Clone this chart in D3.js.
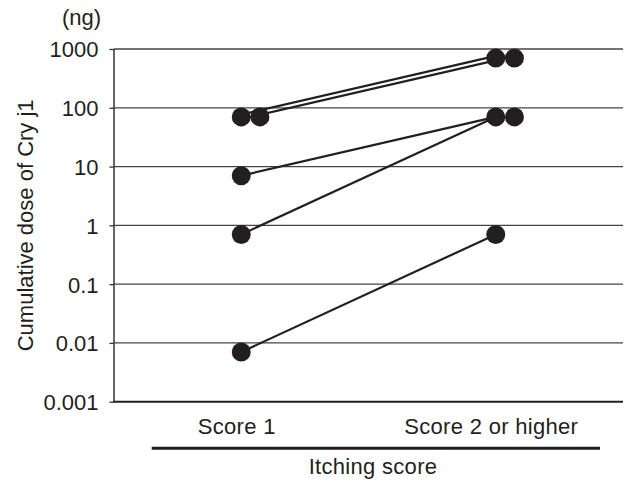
<!DOCTYPE html>
<html><head><meta charset="utf-8">
<script src="https://cdn.jsdelivr.net/npm/d3@7"></script>
<style>body{margin:0;background:#fff}</style>
</head><body>
<svg id="chart" width="625" height="480"></svg>
<script>
const categories = ["Score 1", "Score 2 or higher"];
const score1Values = [70, 70, 7, 0.7, 0.007];
const score2Values = [700, 700, 70, 70, 0.7];
const yTicks = [0.001, 0.01, 0.1, 1, 10, 100, 1000];
const yTickLabels = ["0.001", "0.01", "0.1", "1", "10", "100", "1000"];
const yTitle = "Cumulative dose of Cry j1";
const yUnit = "(ng)";
const xTitle = "Itching score";

const ink = "#231f20";
const font = "'Liberation Sans', Arial, Helvetica, sans-serif";
const fs = 22;
const plot = {left: 114, right: 623, top: 49, bottom: 401.7};
const R = 9.5;

const svg = d3.select("#chart");
const x = d3.scaleBand().domain(categories).range([plot.left, plot.right]).padding(0);
const xc = c => x(c) + x.bandwidth() / 2;
const y = d3.scaleLog().domain([0.001, 1000]).range([plot.bottom, plot.top]);

// gridlines
svg.append("g").selectAll("line").data(yTicks.slice(1)).join("line")
  .attr("x1", plot.left).attr("x2", plot.right)
  .attr("y1", d => y(d)).attr("y2", d => y(d))
  .attr("stroke", "#444").attr("stroke-width", 1.3);

// y axis
const yAxis = d3.axisLeft(y).tickValues(yTicks).tickSize(4.5).tickPadding(11)
  .tickFormat((d, i) => yTickLabels[i]);
const ga = svg.append("g").attr("transform", `translate(${plot.left},0)`).call(yAxis);
ga.select(".domain").remove();
ga.selectAll(".tick line").attr("stroke", "#333").attr("stroke-width", 1.3);
ga.selectAll(".tick text").attr("font-family", font).attr("font-size", fs).attr("fill", ink)
  .attr("dy", "0.36em");
svg.append("line").attr("x1", plot.left).attr("x2", plot.left)
  .attr("y1", plot.top).attr("y2", plot.bottom).attr("stroke", "#333").attr("stroke-width", 1.5);
// bottom axis line
svg.append("line").attr("x1", plot.left - 0.75).attr("x2", plot.right)
  .attr("y1", plot.bottom).attr("y2", plot.bottom).attr("stroke", ink).attr("stroke-width", 2);

// build subject pairs
const pairs = score1Values.map((v, i) => ({a: v, b: score2Values[i]}));
pairs.forEach((p, i) => {
  const same = pairs.filter(q => q.a === p.a && q.b === p.b);
  const k = same.indexOf(p);
  p.off = (k - (same.length - 1) / 2) * 4.5;
});

const line = svg.append("g");
line.selectAll("line").data(pairs).join("line")
  .attr("x1", xc(categories[0])).attr("x2", xc(categories[1]))
  .attr("y1", d => y(d.a) + d.off).attr("y2", d => y(d.b) + d.off)
  .attr("stroke", ink).attr("stroke-width", 2.2);

function dotsFor(vals, cat) {
  return vals.map((v, i) => {
    const k = vals.slice(0, i).filter(w => w === v).length;
    return {v, cx: xc(cat) + k * 18.7};
  });
}
const dots = dotsFor(score1Values, categories[0]).concat(dotsFor(score2Values, categories[1]));
svg.append("g").selectAll("circle").data(dots).join("circle")
  .attr("cx", d => d.cx).attr("cy", d => y(d.v)).attr("r", R).attr("fill", ink);

// x category labels
svg.append("g").selectAll("text").data(categories).join("text")
  .attr("x", d => xc(d) - 4.5).attr("y", 434)
  .attr("text-anchor", "middle").attr("font-family", font).attr("font-size", fs).attr("fill", ink)
  .attr("letter-spacing", 0.3)
  .text(d => d);

// bracket line and x title
svg.append("line").attr("x1", 151.7).attr("x2", 600).attr("y1", 448.3).attr("y2", 448.3)
  .attr("stroke", ink).attr("stroke-width", 3);
svg.append("text").attr("x", 373).attr("y", 474).attr("text-anchor", "middle")
  .attr("font-family", font).attr("font-size", fs).attr("fill", ink)
  .attr("letter-spacing", 0.3).text(xTitle);

// y title and unit
svg.append("text").attr("transform", `translate(33,${(plot.top + plot.bottom) / 2}) rotate(-90)`)
  .attr("text-anchor", "middle").attr("font-family", font).attr("font-size", fs).attr("fill", ink)
  .text(yTitle);
svg.append("text").attr("x", 101).attr("y", 25).attr("text-anchor", "end")
  .attr("font-family", font).attr("font-size", fs).attr("fill", ink).text(yUnit);
</script>
</body></html>
